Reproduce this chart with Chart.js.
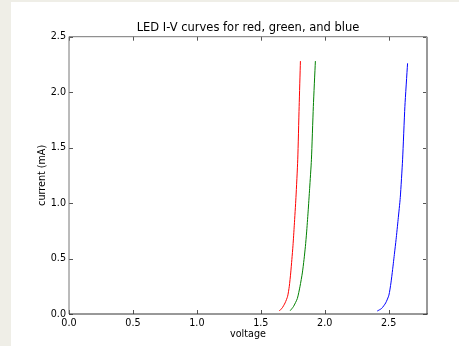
<!DOCTYPE html>
<html>
<head>
<meta charset="utf-8">
<script src="https://cdn.jsdelivr.net/npm/chart.js@4/dist/chart.umd.min.js"></script>
<style>
  html, body { margin: 0; padding: 0; background: #efeee7; }
  #wrap { position: absolute; left: 11px; top: 2px; width: 448px; height: 344px; background: #fff; }
</style>
</head>
<body>
<div id="wrap"><canvas id="myChart"></canvas></div>
<script>
  // values (voltage in V, current in mA)
  const redV = [1.645, 1.665, 1.69, 1.71, 1.723, 1.734, 1.743, 1.752, 1.762, 1.775, 1.789, 1.80, 1.81];
  const redI = [0.03, 0.05, 0.10, 0.16, 0.25, 0.37, 0.49, 0.62, 0.80, 1.05, 1.39, 1.87, 2.28];
  const greenV = [1.73, 1.755, 1.786, 1.807, 1.825, 1.838, 1.849, 1.858, 1.870, 1.882, 1.896, 1.911, 1.927];
  const greenI = [0.03, 0.066, 0.14, 0.25, 0.37, 0.49, 0.61, 0.73, 0.92, 1.13, 1.39, 1.87, 2.28];
  const blueV = [2.411, 2.445, 2.477, 2.502, 2.518, 2.531, 2.546, 2.558, 2.574, 2.591, 2.609, 2.627, 2.648];
  const blueI = [0.027, 0.05, 0.10, 0.17, 0.28, 0.40, 0.55, 0.67, 0.85, 1.05, 1.39, 1.87, 2.26];

  const xTicks = [0, 0.5, 1.0, 1.5, 2.0, 2.5];
  const yTicks = [0, 0.5, 1.0, 1.5, 2.0, 2.5];

  const pts = (xs, ys) => xs.map((x, i) => ({x: x, y: ys[i]}));

  const line = (label, color, xs, ys) => ({
    label: label,
    data: pts(xs, ys),
    borderColor: color,
    borderWidth: 1,
    pointRadius: 0,
    tension: 0.2,
    fill: false
  });

  // frame and inward ticks, matplotlib style
  const frame = {
    id: 'frame',
    afterDraw(chart) {
      const {ctx, chartArea: a, scales: {x, y}} = chart;
      ctx.save();
      ctx.lineWidth = 1;
      ctx.strokeStyle = '#555';
      xTicks.forEach(v => {
        const px = Math.round(x.getPixelForValue(v)) + 0.5;
        ctx.beginPath();
        ctx.moveTo(px, a.bottom); ctx.lineTo(px, a.bottom - 4);
        ctx.moveTo(px, a.top); ctx.lineTo(px, a.top + 4);
        ctx.stroke();
      });
      yTicks.forEach(v => {
        const py = Math.round(y.getPixelForValue(v)) + 0.5;
        ctx.beginPath();
        ctx.moveTo(a.left, py); ctx.lineTo(a.left + 4, py);
        ctx.moveTo(a.right, py); ctx.lineTo(a.right - 4, py);
        ctx.stroke();
      });
      ctx.strokeStyle = '#777';
      ctx.beginPath();
      ctx.moveTo(a.left, a.bottom); ctx.lineTo(a.left, a.top); ctx.lineTo(a.right, a.top);
      ctx.stroke();
      ctx.strokeStyle = '#999';
      ctx.lineWidth = 2;
      ctx.beginPath();
      ctx.moveTo(a.right, a.top); ctx.lineTo(a.right, a.bottom);
      ctx.stroke();
      ctx.lineWidth = 1;
      ctx.strokeStyle = '#333';
      ctx.beginPath();
      ctx.moveTo(a.left, a.bottom); ctx.lineTo(a.right + 1, a.bottom);
      ctx.stroke();
      ctx.restore();
    }
  };

  const tickFont = {family: 'DejaVu Sans', size: 9.6};

  const config = {
    type: 'line',
    data: {
      datasets: [
        line('red', '#ff0000', redV, redI),
        line('green', '#008000', greenV, greenI),
        line('blue', '#0000ff', blueV, blueI)
      ]
    },
    options: {
      responsive: true,
      maintainAspectRatio: false,
      animation: false,
      layout: {padding: {left: 0, right: 32, top: 0, bottom: 0}},
      plugins: {
        legend: {display: false},
        tooltip: {enabled: false},
        title: {
          display: true,
          text: 'LED I-V curves for red, green, and blue',
          fullSize: false,
          color: '#000',
          font: {family: 'DejaVu Sans', size: 11.5, weight: 'normal'},
          padding: {top: 19, bottom: 1.9}
        }
      },
      scales: {
        x: {
          type: 'linear',
          min: 0,
          max: 2.8,
          grid: {display: false, drawTicks: false},
          border: {display: false},
          afterBuildTicks: s => { s.ticks = xTicks.map(v => ({value: v})); },
          afterFit: s => { s.height = 32; },
          ticks: {
            color: '#000',
            font: tickFont,
            padding: 4,
            maxRotation: 0,
            callback: v => v.toFixed(1)
          },
          title: {
            display: true,
            text: 'voltage',
            color: '#000',
            font: tickFont,
            padding: {top: 0, bottom: 6}
          }
        },
        y: {
          min: 0,
          max: 2.5,
          grid: {display: false, drawTicks: false},
          border: {display: false},
          afterBuildTicks: s => { s.ticks = yTicks.map(v => ({value: v})); },
          afterFit: s => { s.width = 58; },
          ticks: {
            color: '#000',
            font: tickFont,
            padding: 3,
            callback: v => v.toFixed(1)
          },
          title: {
            display: true,
            text: 'current (mA)',
            color: '#000',
            font: tickFont,
            padding: {top: 25.5, bottom: 0}
          }
        }
      }
    },
    plugins: [frame]
  };

  const myChart = new Chart(
    document.getElementById('myChart'),
    config
  );
</script>
</body>
</html>
